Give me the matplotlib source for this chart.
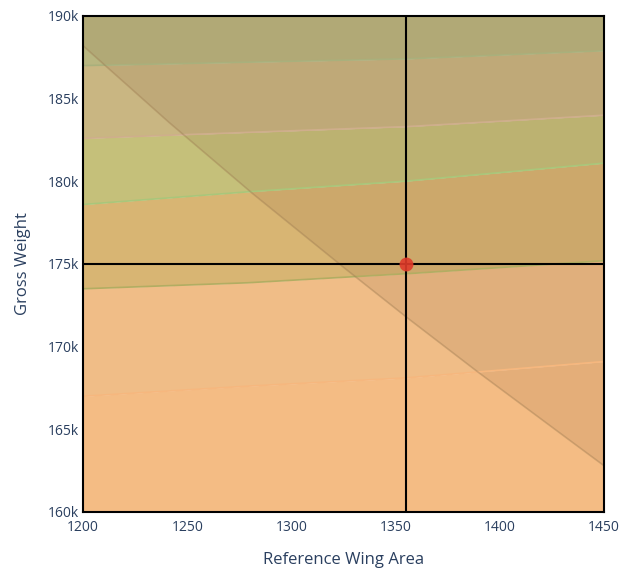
import numpy as np
import matplotlib.pyplot as plt
from matplotlib.ticker import FuncFormatter

plt.rcParams['font.family'] = ['Open Sans', 'DejaVu Sans']

# constraint curves (gross weight vs wing area)
area = [1200, 1277, 1354, 1450]
curve_e = [167000, 167600, 168100, 169100]
curve_d = [173500, 173850, 174400, 175200]
curve_c = [178600, 179350, 180000, 181100]
curve_b = [182600, 182950, 183300, 184000]
curve_a = [187000, 187200, 187400, 187900]

diag_x = [1200, 1240, 1280, 1323, 1354, 1387, 1420, 1450]
diag_y = [188200, 183700, 179400, 175000, 171900, 168700, 165600, 162800]

design_area = 1355
design_weight = 175000

band_colors = ['#f4bc84', '#f0bd87', '#d8b573', '#c5c07a', '#c9b682', '#b8b680']
line_colors = ['#f6b77e', '#b2ad62', '#a9c67a', '#cfae8c', '#a9b07c']

xlim = (1200, 1450)
ylim = (160000, 190000)

fig = plt.figure(figsize=(6.21, 5.69), dpi=100)
ax = fig.add_axes([0.1337, 0.1002, 0.9726 - 0.1337, 0.9719 - 0.1002])

xs = np.linspace(xlim[0], xlim[1], 200)
curves = [np.interp(xs, area, c) for c in (curve_e, curve_d, curve_c, curve_b, curve_a)]
bounds = [np.full_like(xs, ylim[0])] + curves + [np.full_like(xs, ylim[1])]
for i, col in enumerate(band_colors):
    ax.fill_between(xs, bounds[i], bounds[i + 1], color=col, lw=0)
for c, col in zip(curves, line_colors):
    ax.plot(xs, c, color=col, lw=1.2)

dy = np.interp(xs, diag_x, diag_y)
ax.fill_between(xs, dy, ylim[1], color='#8a6440', alpha=0.15, lw=0)
ax.plot(xs, dy, color='#9c7a50', lw=1.2, alpha=0.4)

ax.axvline(design_area, color='black', lw=1.5)
ax.axhline(design_weight, color='black', lw=1.5)
ax.plot([design_area], [design_weight], 'o', color='#e03a2a', ms=10, alpha=0.9, mec='none')

ax.set_xlim(*xlim)
ax.set_ylim(*ylim)
ax.set_xticks([1200, 1250, 1300, 1350, 1400, 1450])
ax.set_yticks(np.arange(160000, 190001, 5000))
ax.yaxis.set_major_formatter(FuncFormatter(lambda v, p: '%dk' % (v / 1000)))
ax.tick_params(length=0, labelsize=10, colors='#2a3f5f')
ax.tick_params(axis='y', pad=3)
ax.tick_params(axis='x', pad=6)
for s in ax.spines.values():
    s.set_linewidth(1.5)
    s.set_color('black')
ax.set_xlabel('Reference Wing Area', fontsize=12, color='#2a3f5f', labelpad=12)
ax.set_ylabel('Gross Weight', fontsize=12, color='#2a3f5f', labelpad=12)

fig.savefig('out.png', dpi=100)
